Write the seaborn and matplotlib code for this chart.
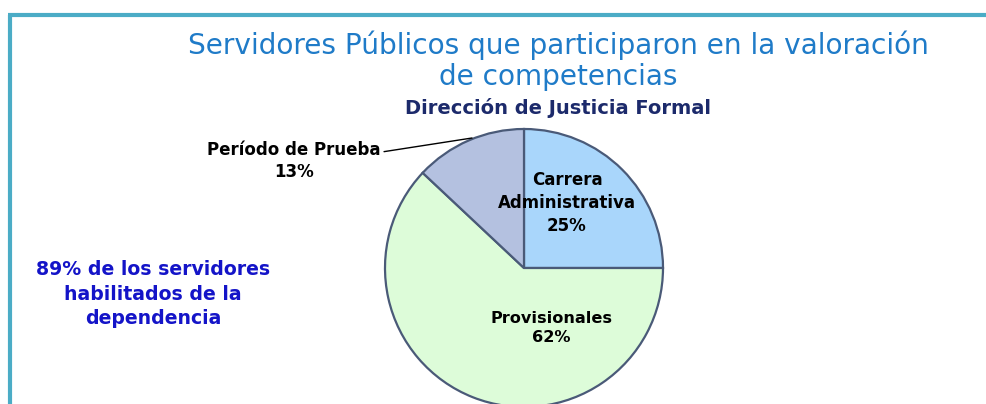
import matplotlib
matplotlib.use("Agg")
import matplotlib.pyplot as plt
import seaborn as sns

categories = ["Carrera\nAdministrativa", "Provisionales", "Período de Prueba"]
values = [25, 62, 13]
colors = ["#A9D6FB", "#DDFCD9", "#B4C1E0"]

title_lines = "Servidores Públicos que participaron en la valoración\nde competencias"
subtitle = "Dirección de Justicia Formal"
side_note = "89% de los servidores\nhabilitados de la\ndependencia"

sns.set_theme(style="white")
plt.rcParams['font.family'] = ['DejaVu Sans']

W, H = 986, 404
fig = plt.figure(figsize=(W / 100, H / 100), dpi=100)
ax = fig.add_axes([0, 0, 1, 1])

def py(y):
    return H - y

cx, cy, r = 524, py(268), 139
wedges, _ = ax.pie(values, colors=colors, startangle=90, counterclock=False,
                   center=(cx, cy), radius=r, frame=True,
                   wedgeprops=dict(edgecolor="#4A5A78", linewidth=1.6))

ax.set_xlim(0, W)
ax.set_ylim(0, H)
ax.set_aspect("equal")
ax.axis("off")

# Border lines (top and left)
ax.plot([8, W], [py(15), py(15)], color="#4BACC6", lw=3, solid_capstyle="butt")
ax.plot([10, 10], [py(15), 0], color="#4BACC6", lw=3, solid_capstyle="butt")

# Title
ax.text(558, py(61), title_lines, ha="center", va="center", fontsize=20.2,
        color="#1F7BC8", linespacing=1.12)
ax.text(558, py(108), subtitle, ha="center", va="center", fontsize=14,
        fontweight="bold", color="#1C2A6B")

# Slice labels
ax.text(567, py(203), f"{categories[0]}\n{values[0]}%", ha="center", va="center",
        fontsize=12, fontweight="bold", color="black", linespacing=1.35)
ax.text(551, py(328), f"{categories[1]}\n{values[1]}%", ha="center", va="center",
        fontsize=11.6, fontweight="bold", color="black", linespacing=1.35)
ax.annotate(f"{categories[2]}\n{values[2]}%", xy=(472, py(138)), xytext=(294, py(161)),
            ha="center", va="center", fontsize=12, fontweight="bold", color="black",
            linespacing=1.3,
            arrowprops=dict(arrowstyle="-", color="black", lw=1,
                            shrinkA=0, shrinkB=0, relpos=(1.0, 0.72)))

# Side note
ax.text(153, py(294), side_note, ha="center", va="center", fontsize=13.6,
        fontweight="bold", color="#1414C8", linespacing=1.35)

fig.savefig("out.png", dpi=100)
